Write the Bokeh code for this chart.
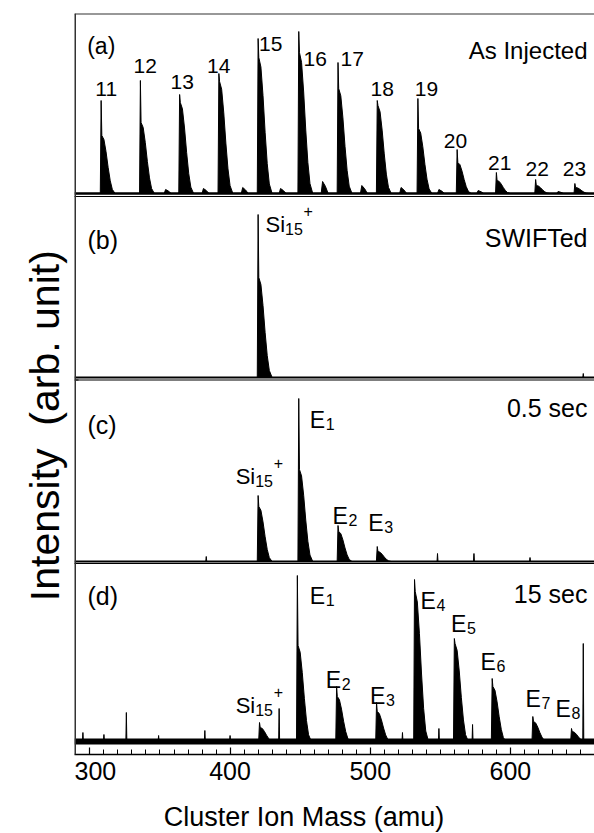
import math
from bokeh.plotting import figure
from bokeh.layouts import row, column
from bokeh.models import Range1d, Label, Span, FixedTicker
from bokeh.embed import file_html
from bokeh.resources import INLINE

FONT = "Liberation Sans"

# ---------------- data (mass in amu, intensity in arb. unit) ----------------
# (a) As injected: Si_n+ clusters
a_names = ["11", "12", "13", "14", "15", "16", "17", "18", "19", "20", "21", "22", "23"]
a_mass = [308, 336, 364, 392, 420, 449, 477, 505, 534, 562, 590, 618, 646]
a_top = [93, 113, 99, 120, 155, 162, 131, 93, 95, 44, 21, 14, 10]
a_body = [58, 71, 91, 112, 136, 141, 105, 88, 65, 31, 13, 8, 6]
a_minor_mass = [354, 381, 409, 436, 466, 494, 522, 549, 577, 634]
a_minor_int = [4, 5, 6, 5, 12, 8, 6, 4, 3, 2]

# (b) SWIFTed: isolated Si15+
b_mass = [420]
b_top = [163]
b_body = [100]
b_spike_mass = [652]
b_spike_int = [4]

# (c) 0.5 sec
c_mass = [420, 449, 477, 505]
c_top = [66, 163, 36, 15]
c_body = [55, 92, 30, 10]
c_spike_mass = [383, 548, 574, 614]
c_spike_int = [5, 8, 8, 4]

# (d) 15 sec
d_mass = [421, 448, 476, 504.5, 531.6, 560, 587, 616, 643.6]
d_top = [19, 166, 55, 39, 162, 103, 63, 25, 13]
d_body = [14, 96, 45, 30, 150, 98, 55, 20, 10]
d_spike_mass = [295, 310, 326, 349, 382, 400, 435, 523, 549, 573, 652]
d_spike_int = [9, 7, 29, 6, 11, 6, 33, 9, 13, 17, 98]

x_ticks = [300, 400, 500, 600]

# peak shape template (offset in amu, fraction of body height)
PROFILE_DX = [-0.6, 0.0, 0.5, 2.0, 3.5, 5.0, 6.5, 8.0, 10.0]
PROFILE_F = [0.0, None, 1.0, 0.93, 0.72, 0.45, 0.22, 0.07, 0.0]

# ---------------- layout (pixel positions in the 594x833 picture) ----------------
TOTAL_W, TOTAL_H = 594, 833
LEFT = 74                 # frame left
TOP = 13                  # frame top
FRAME_BOTTOM = 754
P_H = 800                 # main figure height
XL_H = TOTAL_H - P_H      # x-label strip height
P_W = TOTAL_W - LEFT
FRAME_H = FRAME_BOTTOM - TOP
PX_PER_AMU = 1.4016
X0 = 289.0
X1 = X0 + P_W / PX_PER_AMU
PX_PER_UNIT = FRAME_H / 4.0


def mx(ximg):
    return X0 + (ximg - LEFT) / PX_PER_AMU


def yy(yimg):
    return (FRAME_BOTTOM - yimg) / PX_PER_UNIT


BASE_IMG = [193, 377, 561, 741]
SEP_IMG = [196, 379.5, 563]
bases = [yy(v) for v in BASE_IMG]

p = figure(width=P_W, height=P_H, x_range=Range1d(X0, X1), y_range=Range1d(0, 4),
           output_backend="svg", toolbar_location=None,
           min_border_left=0, min_border_right=0, min_border_top=TOP,
           min_border_bottom=P_H - FRAME_BOTTOM)
p.outline_line_color = None
p.xgrid.visible = False
p.ygrid.visible = False
p.yaxis.visible = False


def peaks(masses, tops, bodies, base):
    xs, ys = [], []
    for m, t, b in zip(masses, tops, bodies):
        xs.append([m + d for d in PROFILE_DX])
        ys.append([base + ((t if f is None else f * b) / PX_PER_UNIT) for f in PROFILE_F])
    return xs, ys


def spikes(masses, ints, base, w=0.35):
    xs, ys = [], []
    for m, h in zip(masses, ints):
        xs.append([m - w, m, m + w])
        ys.append([base, base + h / PX_PER_UNIT, base])
    return xs, ys


def humps(masses, ints, base):
    xs, ys = [], []
    for m, h in zip(masses, ints):
        xs.append([m - 1, m, m + 2, m + 4])
        ys.append([base, base + h / PX_PER_UNIT, base + 0.6 * h / PX_PER_UNIT, base])
    return xs, ys


panels = [
    ([(a_mass, a_top, a_body)], [], [(a_minor_mass, a_minor_int)], 2.5),
    ([(b_mass, b_top, b_body)], [(b_spike_mass, b_spike_int)], [], 2.0),
    ([(c_mass, c_top, c_body)], [(c_spike_mass, c_spike_int)], [], 2.0),
    ([(d_mass, d_top, d_body)], [(d_spike_mass, d_spike_int)], [], 6.0),
]

for (pk, sp, hm, lw), base in zip(panels, bases):
    xs, ys = [], []
    for mm, tt, bb in pk:
        a, b = peaks(mm, tt, bb, base)
        xs += a
        ys += b
    for mm, ii in sp:
        a, b = spikes(mm, ii, base)
        xs += a
        ys += b
    for mm, ii in hm:
        a, b = humps(mm, ii, base)
        xs += a
        ys += b
    p.line([X0, X1], [base, base], line_color="black", line_width=lw)
    p.patches(xs, ys, fill_color="black", line_color="black", line_width=1)

# panel separators, frame top and left border
for s in SEP_IMG:
    p.add_layout(Span(location=yy(s), dimension="width", line_color="black", line_width=1.2))
p.add_layout(Span(location=4, dimension="width", line_color="#333333", line_width=2))
p.add_layout(Span(location=X0, dimension="height", line_color="#333333", line_width=3))
sep_vals = [yy(s) for s in SEP_IMG]
p.segment(x0=[X0] * 3, x1=[X0 + 4 / PX_PER_AMU] * 3, y0=sep_vals, y1=sep_vals,
          line_color="black", line_width=1.2)

# x axis
p.xaxis.ticker = FixedTicker(ticks=x_ticks, minor_ticks=list(range(290, 661, 10)))
p.xaxis.axis_line_width = 1.5
p.xaxis.major_tick_in = 7
p.xaxis.major_tick_out = 0
p.xaxis.minor_tick_in = 5
p.xaxis.minor_tick_out = 0
p.xaxis.major_tick_line_width = 1.2
p.xaxis.major_label_text_font = FONT
p.xaxis.major_label_text_font_size = "25px"
p.xaxis.major_label_text_color = "black"
p.xaxis.major_label_standoff = 7


def lab(text, ximg, yimg, size, align="left"):
    p.add_layout(Label(x=mx(ximg), y=yy(yimg), text=text, text_font=FONT,
                       text_font_size=f"{size}px", text_align=align,
                       text_baseline="alphabetic", text_color="black"))


# panel (a)
lab("(a)", 86.7, 45, 23)
lab("As Injected", 587, 50, 24, "right")
a_lab_pos = [(105.7, 88.3), (144.7, 65), (181.7, 81), (218.3, 65.7), (270.3, 43.3),
             (314.7, 58.3), (351.7, 58.3), (381.7, 88.3), (426, 88.3), (455, 140),
             (499.3, 162.3), (536.7, 168.3), (574, 168.3)]
for name, (xi, yi) in zip(a_names, a_lab_pos):
    lab(name, xi, yi, 21, "center")


def e_lab(sub, ximg, yimg):
    lab("E", ximg, yimg, 23)
    lab(sub, ximg + 16, yimg + 4, 16)


def si_lab(ximg, yimg):
    lab("Si", ximg, yimg, 22)
    lab("15", ximg + 19.5, yimg + 4, 16)
    lab("+", ximg + 38, yimg - 14, 16)


# panel (b)
lab("(b)", 87, 239, 25)
lab("SWIFTed", 587, 237.6, 25, "right")
si_lab(265, 224)

# panel (c)
lab("(c)", 87, 424.6, 25)
lab("0.5 sec", 587, 407.6, 25, "right")
si_lab(235.2, 476.3)
e_lab("1", 309.3, 419)
e_lab("2", 332, 515.4)
e_lab("3", 367.8, 522.2)

# panel (d)
lab("(d)", 87, 595.5, 25)
lab("15 sec", 587, 593, 25, "right")
si_lab(235.2, 705.4)
e_lab("1", 309.3, 595.5)
e_lab("2", 325.3, 679.2)
e_lab("3", 369.5, 695.2)
e_lab("4", 419.9, 600)
e_lab("5", 450.5, 623.7)
e_lab("6", 480, 661)
e_lab("7", 525, 698.6)
e_lab("8", 554.9, 708.8)

# y-axis title strip (left of the frame)
ly = figure(width=LEFT, height=P_H, x_range=Range1d(0, LEFT), y_range=Range1d(0, P_H),
            output_backend="svg", toolbar_location=None, min_border=0)
ly.axis.visible = False
ly.grid.visible = False
ly.outline_line_color = None
ly.add_layout(Label(x=44, y=P_H - 445, text="Intensity\u00a0 (arb. unit)", angle=math.pi / 2,
                    text_font=FONT, text_font_size="41px", text_align="center",
                    text_baseline="alphabetic", text_color="black"))

# x-axis title strip (below)
lx = figure(width=TOTAL_W, height=XL_H, x_range=Range1d(0, TOTAL_W), y_range=Range1d(0, XL_H),
            output_backend="svg", toolbar_location=None, min_border=0)
lx.axis.visible = False
lx.grid.visible = False
lx.outline_line_color = None
lx.add_layout(Label(x=303.5, y=17, text="Cluster Ion Mass (amu)",
                    text_font=FONT, text_font_size="27px", text_align="center",
                    text_baseline="alphabetic", text_color="black"))

layout = column(row(ly, p, spacing=0), lx, spacing=0)
open("out.html", "w").write(file_html(layout, INLINE))
